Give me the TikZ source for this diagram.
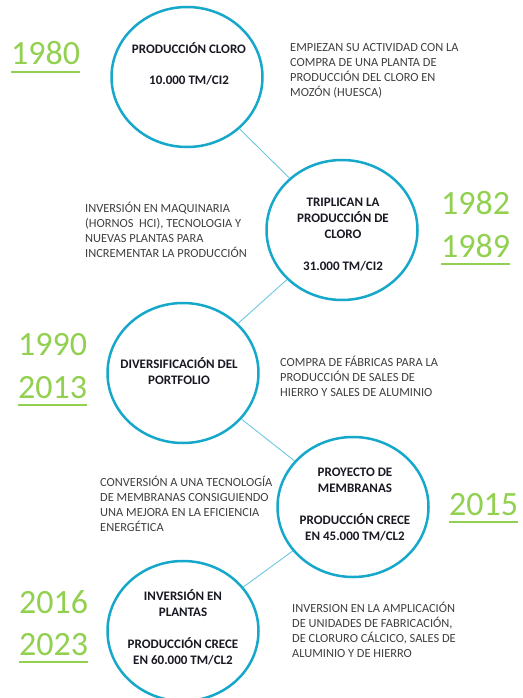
\documentclass[tikz,border=0pt]{standalone}
\usepackage{fontspec}
\setmainfont{Carlito}
\usetikzlibrary{shapes.geometric}

\definecolor{ringblue}{RGB}{22,168,202}
\definecolor{linkblue}{RGB}{110,200,224}
\definecolor{yeargreen}{RGB}{146,208,80}
\definecolor{noteink}{RGB}{64,64,64}
\definecolor{headink}{RGB}{25,25,35}

% underlined year, rule drawn below the baseline
\newcommand{\yrline}[1]{\setbox0\hbox{#1}\rlap{\rule[-8pt]{\wd0}{2pt}}\box0}

\begin{document}
\begin{tikzpicture}[x=1pt,y=1pt,yscale=-1,
  ring/.style={draw=ringblue, line width=2.5pt, ellipse, minimum width=151pt, minimum height=140pt, inner sep=0pt},
  link/.style={draw=linkblue, line width=0.9pt},
  head/.style={font=\fontsize{13}{15.7}\selectfont\bfseries, text=headink, align=center, anchor=base, inner sep=0pt},
  note/.style={font=\fontsize{12.4}{15}\selectfont, text=noteink, align=left, anchor=base west, inner sep=0pt},
  year/.style={font=\fontsize{34}{40}\selectfont, text=yeargreen, anchor=base west, inner sep=0pt}]
\clip (0,0) rectangle (522,698);
\fill[white] (0,0) rectangle (522,698);

%Shape: Circles
\node[ring] (c1) at (187,77) {};
\node[ring] (c2) at (342,230) {};
\node[ring] (c3) at (183,373) {};
\node[ring] (c4) at (353,507) {};
\node[ring] (c5) at (183,631) {};

%Straight Lines
\draw[link] (c1) -- (c2);
\draw[link] (c2) -- (c3);
\draw[link] (c3) -- (c4);
\draw[link] (c4) -- (c5);

% Text Node (base = last line)
\node[head] (t1) at (189,85) {PRODUCCIÓN CLORO\\[15.5pt]10.000 TM/CI2};
% Text Node
\node[head] (t2) at (343,270) {TRIPLICAN LA\\PRODUCCIÓN DE\\CLORO\\[16pt]31.000 TM/CI2};
% Text Node
\node[head] (t3) at (179,384) {DIVERSIFICACIÓN DEL\\PORTFOLIO};
% Text Node
\node[head] (t4) at (355,540) {PROYECTO DE\\MEMBRANAS\\[16pt]PRODUCCIÓN CRECE\\EN 45.000 TM/CL2};
% Text Node
\node[head] (t5) at (183,664) {INVERSIÓN EN\\PLANTAS\\[16pt]PRODUCCIÓN CRECE\\EN 60.000 TM/CL2};

% Text Node
\node[note] (d1) at (290,97) {EMPIEZAN SU ACTIVIDAD CON LA\\COMPRA DE UNA PLANTA DE\\PRODUCCIÓN DEL CLORO EN\\MOZÓN (HUESCA)};
% Text Node
\node[note] (d2) at (85,257) {INVERSIÓN EN MAQUINARIA\\(HORNOS\ \ HCI), TECNOLOGIA Y\\NUEVAS PLANTAS PARA\\INCREMENTAR LA PRODUCCIÓN};
% Text Node
\node[note] (d3) at (280,396) {COMPRA DE FÁBRICAS PARA LA\\PRODUCCIÓN DE SALES DE\\HIERRO Y SALES DE ALUMINIO};
% Text Node
\node[note] (d4) at (100,531) {CONVERSIÓN A UNA TECNOLOGÍA\\DE MEMBRANAS CONSIGUIENDO\\UNA MEJORA EN LA EFICIENCIA\\ENERGÉTICA};
% Text Node
\node[note] (d5) at (292,657) {INVERSION EN LA AMPLICACIÓN\\DE UNIDADES DE FABRICACIÓN,\\DE CLORURO CÁLCICO, SALES DE\\ALUMINIO Y DE HIERRO};

% Years
\node[year] (y1) at (11,65) {\yrline{1980}};
\node[year] (y2) at (441,214) {1982};
\node[year] (y3) at (441,257) {\yrline{1989}};
\node[year] (y4) at (18,355) {1990};
\node[year] (y5) at (18,398) {\yrline{2013}};
\node[year] (y6) at (449,515) {\yrline{2015}};
\node[year] (y7) at (19,613) {2016};
\node[year] (y8) at (19,655) {\yrline{2023}};

\end{tikzpicture}
\end{document}
